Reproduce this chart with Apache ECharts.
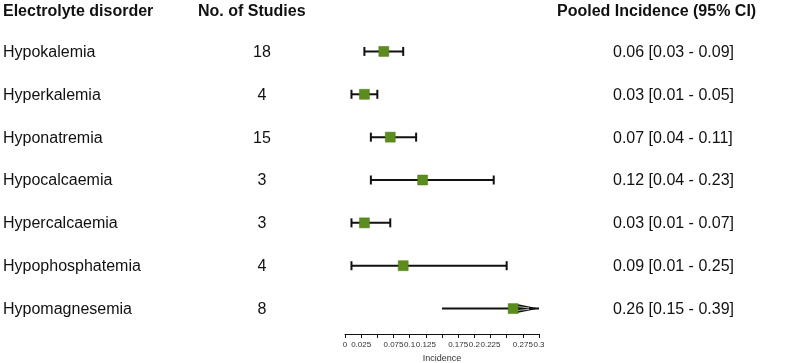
<!DOCTYPE html>
<html>
<head>
<meta charset="utf-8">
<script src="https://cdn.jsdelivr.net/npm/echarts@6/dist/echarts.min.js"></script>
<style>
  html, body { margin: 0; padding: 0; background: #fff; }
  #chart { width: 796px; height: 363px; }
</style>
</head>
<body>
<div id="chart"></div>
<script>
// data
var disorders = ['Hypokalemia', 'Hyperkalemia', 'Hyponatremia', 'Hypocalcaemia',
    'Hypercalcaemia', 'Hypophosphatemia', 'Hypomagnesemia'];
var studies = [18, 4, 15, 3, 3, 4, 8];
var estimate = [0.06, 0.03, 0.07, 0.12, 0.03, 0.09, 0.26];
var lower = [0.03, 0.01, 0.04, 0.04, 0.01, 0.01, 0.15];
var upper = [0.09, 0.05, 0.11, 0.23, 0.07, 0.25, 0.39];
var hiddenTicks = [0.05, 0.15, 0.25];

var X_MAX = 0.3;
var FONT = 'Liberation Sans, Arial, sans-serif';

var myChart = echarts.init(document.getElementById('chart'));

var forestData = [];
var textData = [];
for (var i = 0; i < disorders.length; i++) {
    forestData.push([i, estimate[i], lower[i], upper[i]]);
    textData.push([i, disorders[i], studies[i],
        estimate[i].toFixed(2) + ' [' + lower[i].toFixed(2) + ' - ' + upper[i].toFixed(2) + ']']);
}

function renderForest(params, api) {
    var idx = api.value(0);
    var est = api.coord([api.value(1), idx]);
    var lo = api.coord([api.value(2), idx]);
    var hiVal = api.value(3);
    var clipped = hiVal > X_MAX;
    var hi = api.coord([Math.min(hiVal, X_MAX), idx]);
    var y = est[1];
    var black = { stroke: '#111', lineWidth: 2 };
    var children = [
        { type: 'line', shape: { x1: lo[0], y1: y, x2: hi[0], y2: y }, style: black }
    ];
    if (!clipped) {
        children.push({ type: 'line', shape: { x1: lo[0], y1: y - 4.5, x2: lo[0], y2: y + 4.5 }, style: black });
        children.push({ type: 'line', shape: { x1: hi[0], y1: y - 4.5, x2: hi[0], y2: y + 4.5 }, style: black });
    } else {
        // arrow for an interval running past the axis
        children.push({
            type: 'polygon',
            shape: { points: [[hi[0] - 22, y - 4.5], [hi[0], y], [hi[0] - 22, y + 4.5]] },
            style: { fill: '#111' }
        });
        children.push({ type: 'line', shape: { x1: hi[0] - 22, y1: y - 2, x2: hi[0] - 10, y2: y - 0.7 }, style: { stroke: '#fff', lineWidth: 0.7 } });
        children.push({ type: 'line', shape: { x1: hi[0] - 22, y1: y + 2, x2: hi[0] - 10, y2: y + 0.7 }, style: { stroke: '#fff', lineWidth: 0.7 } });
    }
    children.push({
        type: 'rect',
        shape: { x: est[0] - 5, y: y - 5, width: 10, height: 10 },
        style: { fill: '#5b8c1e', stroke: '#4f7d18', lineWidth: 0.5 }
    });
    return { type: 'group', children: children };
}

function renderText(params, api) {
    var idx = api.value(0);
    var y = api.coord([0, idx])[1] + 1;
    var base = { fill: '#111', fontSize: 16, fontFamily: FONT, verticalAlign: 'middle' };
    return {
        type: 'group',
        children: [
            { type: 'text', style: Object.assign({ text: textData[idx][1], x: 3, y: y, align: 'left' }, base) },
            { type: 'text', style: Object.assign({ text: String(textData[idx][2]), x: 262, y: y, align: 'center' }, base) },
            { type: 'text', style: Object.assign({ text: textData[idx][3], x: 613, y: y, align: 'left' }, base) }
        ]
    };
}

var option = {
    animation: false,
    backgroundColor: '#fff',
    grid: { left: 345, width: 194, top: 30, height: 300, outerBoundsMode: 'none', containLabel: false },
    xAxis: {
        type: 'value',
        min: 0,
        max: X_MAX,
        interval: 0.025,
        offset: 4,
        splitLine: { show: false },
        axisLine: { show: true, lineStyle: { color: '#111', width: 1 } },
        axisTick: { show: true, length: 4, lineStyle: { color: '#111' } },
        axisLabel: {
            fontSize: 8,
            color: '#333',
            fontFamily: FONT,
            margin: 7,
            hideOverlap: false,
            formatter: function (v) {
                for (var k = 0; k < hiddenTicks.length; k++) {
                    if (Math.abs(v - hiddenTicks[k]) < 1e-6) return '';
                }
                return String(Math.round(v * 1000) / 1000);
            }
        },
        name: 'Incidence',
        nameLocation: 'middle',
        nameGap: 19,
        nameTextStyle: { fontSize: 9, color: '#333', fontFamily: FONT }
    },
    yAxis: {
        type: 'category',
        data: disorders,
        inverse: true,
        show: false
    },
    graphic: [
        { type: 'text', left: 3, top: 4, style: { text: 'Electrolyte disorder', font: 'bold 16px ' + FONT, fill: '#111' } },
        { type: 'text', left: 198, top: 4, style: { text: 'No. of Studies', font: 'bold 16px ' + FONT, fill: '#111' } },
        { type: 'text', left: 557, top: 4, style: { text: 'Pooled Incidence (95% CI)', font: 'bold 16px ' + FONT, fill: '#111' } }
    ],
    series: [
        {
            type: 'custom',
            renderItem: renderForest,
            data: forestData,
            encode: { x: [1, 2, 3], y: 0 },
            clip: false,
            silent: true
        },
        {
            type: 'custom',
            renderItem: renderText,
            data: textData.map(function (d) { return [d[0], 0]; }),
            encode: { y: 0 },
            clip: false,
            silent: true
        }
    ]
};

myChart.setOption(option);
</script>
</body>
</html>
